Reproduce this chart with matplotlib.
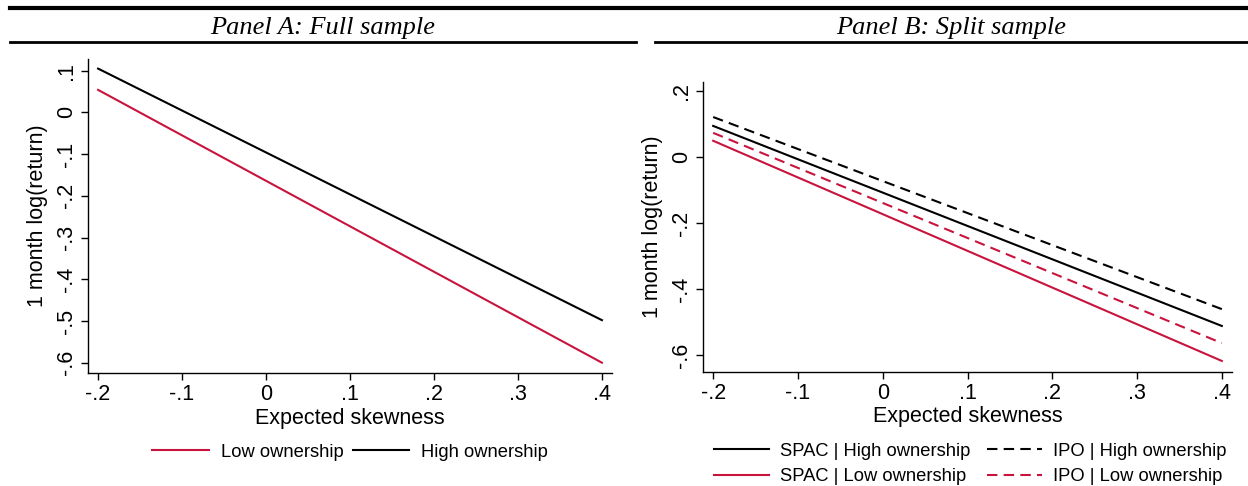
import matplotlib
matplotlib.use("Agg")
import matplotlib.pyplot as plt
from matplotlib.lines import Line2D

plt.rcParams['font.family'] = ['Liberation Sans', 'DejaVu Sans']

# expected skewness grid (fitted lines, endpoints)
skew = [-0.2, 0.4]

# Panel A: full sample
full_low = [0.054, -0.600]
full_high = [0.105, -0.498]

# Panel B: split sample
spac_high = [0.094, -0.512]
spac_low = [0.049, -0.618]
ipo_high = [0.121, -0.461]
ipo_low = [0.073, -0.564]

xticks = [-0.2, -0.1, 0, 0.1, 0.2, 0.3, 0.4]
xtick_labels = ['-.2', '-.1', '0', '.1', '.2', '.3', '.4']
yticks_a = [0.1, 0, -0.1, -0.2, -0.3, -0.4, -0.5, -0.6]
ytick_labels_a = ['.1', '0', '-.1', '-.2', '-.3', '-.4', '-.5', '-.6']
yticks_b = [0.2, 0, -0.2, -0.4, -0.6]
ytick_labels_b = ['.2', '0', '-.2', '-.4', '-.6']

RED = '#c8143c'
W, H = 1248, 486


def fx(px):
    return px / W


def fy(py):
    return 1 - py / H


def style_axes(ax, yticks, ylabels):
    for s in ['top', 'right']:
        ax.spines[s].set_visible(False)
    for s in ['left', 'bottom']:
        ax.spines[s].set_linewidth(1.0)
    ax.set_xticks(xticks)
    ax.set_xticklabels(xtick_labels)
    ax.set_yticks(yticks)
    ax.set_yticklabels(ylabels, rotation=90, va='center')
    ax.tick_params(direction='out', length=5, width=1, labelsize=15.5, pad=3)
    ax.set_xlabel('Expected skewness', fontsize=15.5, labelpad=2)
    ax.set_ylabel('1 month log(return)', fontsize=15.5, labelpad=6)
    ax.set_xlim(-0.212, 0.412)


fig = plt.figure(figsize=(12.48, 4.86), dpi=100)

# Panel A
axA = fig.add_axes([fx(88), fy(373), fx(612 - 88), (373 - 59) / H])
axA.plot(skew, full_high, color='black', lw=1.5)
axA.plot(skew, full_low, color=RED, lw=1.5)
style_axes(axA, yticks_a, ytick_labels_a)
axA.set_ylim(-0.6247, 0.128)
handlesA = [Line2D([], [], color=RED, lw=1.5), Line2D([], [], color='black', lw=1.5)]
fig.legend(handlesA, ['Low ownership', 'High ownership'], loc='center',
           bbox_to_anchor=(fx(350), fy(452)), ncol=2, frameon=False,
           fontsize=13.2, handlelength=3.1, handletextpad=0.65, columnspacing=0.5)

# Panel B
axB = fig.add_axes([fx(703), fy(371.5), fx(1232 - 703), (371.5 - 81.7) / H])
axB.plot(skew, ipo_high, color='black', lw=1.5, ls=(0, (5, 3)))
axB.plot(skew, spac_high, color='black', lw=1.5)
axB.plot(skew, ipo_low, color=RED, lw=1.5, ls=(0, (5, 3)))
axB.plot(skew, spac_low, color=RED, lw=1.5)
style_axes(axB, yticks_b, ytick_labels_b)
axB.set_ylim(-0.65, 0.228)
handlesB = [Line2D([], [], color='black', lw=1.5),
            Line2D([], [], color=RED, lw=1.5),
            Line2D([], [], color='black', lw=1.5, ls=(0, (5, 3))),
            Line2D([], [], color=RED, lw=1.5, ls=(0, (5, 3)))]
labelsB = ['SPAC | High ownership', 'SPAC | Low ownership',
           'IPO | High ownership', 'IPO | Low ownership']
fig.legend(handlesB, labelsB, loc='center', bbox_to_anchor=(fx(970), fy(464)),
           ncol=2, frameon=False, fontsize=13.2, handlelength=3.0,
           handletextpad=0.6, columnspacing=0.9, labelspacing=0.45)

# panel headers
fig.add_artist(Line2D([fx(10), fx(1248)], [fy(8.5), fy(8.5)], color='black', lw=3))
fig.add_artist(Line2D([fx(10), fx(636)], [fy(42), fy(42)], color='black', lw=2))
fig.add_artist(Line2D([fx(655), fx(1248)], [fy(42), fy(42)], color='black', lw=2))
fig.text(fx(323), fy(28), 'Panel A: Full sample', ha='center', va='center',
         fontsize=19, style='italic', family='Liberation Serif')
fig.text(fx(951), fy(28), 'Panel B: Split sample', ha='center', va='center',
         fontsize=19, style='italic', family='Liberation Serif')

fig.savefig('out.png', dpi=100)
